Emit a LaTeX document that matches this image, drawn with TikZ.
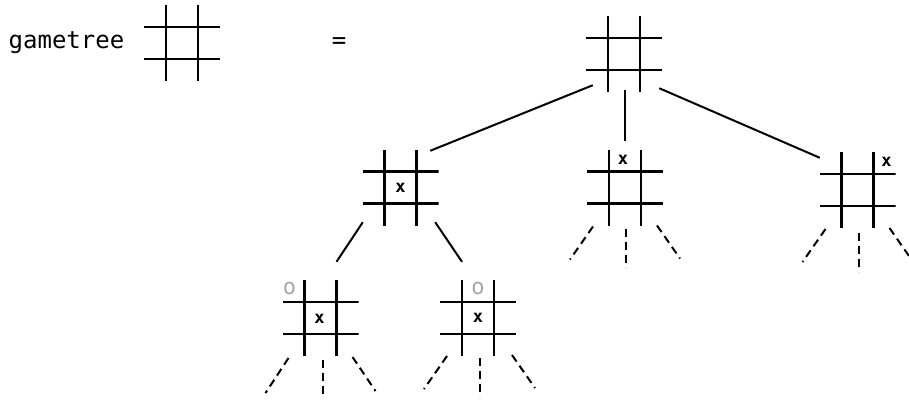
\documentclass[tikz,border=0pt]{standalone}
\usepackage{fontspec}
\setmonofont{DejaVu Sans Mono}
\usepackage{tikz}

\begin{document}
\begin{tikzpicture}[x=1pt, y=-1pt,
  board/.style={rectangle, inner sep=0pt, minimum size=76pt, path picture={
    \draw[line width=2.2pt] ([xshift=-16pt]path picture bounding box.north) -- ([xshift=-16pt]path picture bounding box.south);
    \draw[line width=2.2pt] ([xshift=16pt]path picture bounding box.north) -- ([xshift=16pt]path picture bounding box.south);
    \draw[line width=2.2pt] ([yshift=16pt]path picture bounding box.west) -- ([yshift=16pt]path picture bounding box.east);
    \draw[line width=2.2pt] ([yshift=-16pt]path picture bounding box.west) -- ([yshift=-16pt]path picture bounding box.east);
  }},
  branch/.style={line width=2pt},
  stub/.style={line width=2pt, dash pattern=on 8pt off 5pt},
  xmark/.style={inner sep=0pt, font=\ttfamily\bfseries\fontsize{17}{17}\selectfont},
  omark/.style={inner sep=0pt, text=gray!70, font=\ttfamily\fontsize{22}{22}\selectfont},
  words/.style={inner sep=0pt, font=\ttfamily\fontsize{24}{24}\selectfont}]
  \useasboundingbox (0,0) rectangle (909,402);

  % Left hand side
  \node[words, anchor=base west] (name) at (8.5,48) {gametree};
  \node[board] (G) at (182,43) {};
  \node[words, anchor=base] (eq) at (339,48) {=};

  % Boards of the tree
  \node[board] (T) at (624,54) {};
  \node[board] (T1) at (400.5,187.5) {};
  \node[board] (T2) at (625,187.5) {};
  \node[board] (T3) at (857.5,190) {};
  \node[board] (T11) at (320.5,318) {};
  \node[board] (T12) at (478,318) {};

  % Moves
  \node[xmark] (T1x) at (T1.center) {x};
  \node[xmark] (T2x) at ([shift={(-2,-28)}]T2.center) {x};
  \node[xmark] (T3x) at ([shift={(29,-28)}]T3.center) {x};
  \node[xmark] (T11x) at ([shift={(-1,1)}]T11.center) {x};
  \node[omark] (T11o) at ([shift={(-31,-30)}]T11.center) {o};
  \node[xmark] (T12x) at (T12.center) {x};
  \node[omark] (T12o) at ([shift={(0,-30)}]T12.center) {o};

  % Branches
  \draw[branch] ([shift={(7,-7)}]T.south west) -- ([shift={(-8.5,1.5)}]T1.north east);
  \draw[branch] ([shift={(1,-2)}]T.south) -- ([shift={(0,-8.5)}]T2.north);
  \draw[branch] ([shift={(-3,-4)}]T.south east) -- ([shift={(0.5,6)}]T3.north west);
  \draw[branch] ([shift={(0.5,-3.5)}]T1.south west) -- ([shift={(16,-18)}]T11.north);
  \draw[branch] ([shift={(-3.5,-3.5)}]T1.south east) -- ([shift={(-16,-18)}]T12.north);

  % Open ends below T2
  \coordinate (T2l) at ([shift={(-55,72)}]T2.center);
  \coordinate (T2m) at ([shift={(1,80)}]T2.center);
  \coordinate (T2r) at ([shift={(55,71)}]T2.center);
  \draw[stub] ([shift={(-32,39)}]T2.center) -- (T2l);
  \draw[stub] ([shift={(1,41)}]T2.center) -- (T2m);
  \draw[stub] ([shift={(32,38)}]T2.center) -- (T2r);

  % Open ends below T3
  \coordinate (T3l) at ([shift={(-55,72)}]T3.center);
  \coordinate (T3m) at ([shift={(1,82)}]T3.center);
  \coordinate (T3r) at ([shift={(55,71)}]T3.center);
  \draw[stub] ([shift={(-32,39)}]T3.center) -- (T3l);
  \draw[stub] ([shift={(1,43)}]T3.center) -- (T3m);
  \draw[stub] ([shift={(32,38)}]T3.center) -- (T3r);

  % Open ends below T11
  \coordinate (T11l) at ([shift={(-55,75)}]T11.center);
  \coordinate (T11m) at ([shift={(2,80)}]T11.center);
  \coordinate (T11r) at ([shift={(55,73)}]T11.center);
  \draw[stub] ([shift={(-32,40)}]T11.center) -- (T11l);
  \draw[stub] ([shift={(2,42)}]T11.center) -- (T11m);
  \draw[stub] ([shift={(32,39)}]T11.center) -- (T11r);

  % Open ends below T12
  \coordinate (T12l) at ([shift={(-54,71)}]T12.center);
  \coordinate (T12m) at ([shift={(2,79)}]T12.center);
  \coordinate (T12r) at ([shift={(57,70)}]T12.center);
  \draw[stub] ([shift={(-31,38)}]T12.center) -- (T12l);
  \draw[stub] ([shift={(2,40)}]T12.center) -- (T12m);
  \draw[stub] ([shift={(34,37)}]T12.center) -- (T12r);
\end{tikzpicture}
\end{document}
